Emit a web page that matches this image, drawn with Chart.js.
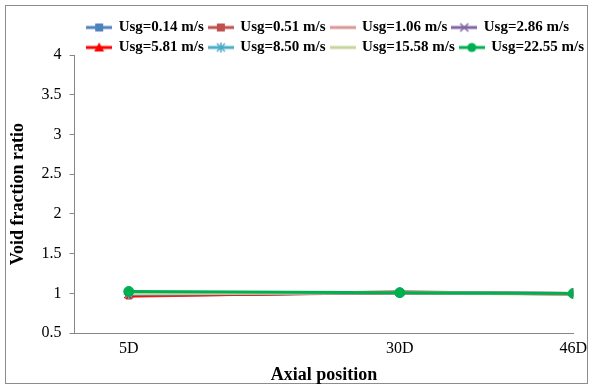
<!DOCTYPE html>
<html>
<head>
<meta charset="utf-8">
<script src="https://cdn.jsdelivr.net/npm/chart.js@4.4.1/dist/chart.umd.min.js"></script>
<style>
  html, body { margin: 0; padding: 0; background: #fff; }
  #wrap { width: 593px; height: 388px; }
</style>
</head>
<body>
<div id="wrap"><canvas id="myChart" width="593" height="388"></canvas></div>
<script>
// axial positions (in pipe diameters) and their tick labels
const positions = [5, 30, 46];
const positionLabels = ['5D', '30D', '46D'];

const seriesLabels = ['Usg=0.14 m/s', 'Usg=0.51 m/s', 'Usg=1.06 m/s', 'Usg=2.86 m/s',
  'Usg=5.81 m/s', 'Usg=8.50 m/s', 'Usg=15.58 m/s', 'Usg=22.55 m/s'];

// void fraction ratio
const usg014 = [0.98, 1.01, 1.00];
const usg051 = [0.965, 1.02, 0.99];
const usg106 = [0.98, 1.01, 0.99];
const usg286 = [0.985, 1.01, 1.00];
const usg581 = [0.975, 1.01, 1.00];
const usg850 = [0.99, 1.01, 1.00];
const usg1558 = [1.00, 1.01, 1.00];
const usg2255 = [1.025, 1.01, 1.00];

const yTicks = [0.5, 1, 1.5, 2, 2.5, 3, 3.5, 4];

const seriesValues = [usg014, usg051, usg106, usg286, usg581, usg850, usg1558, usg2255];
const colors = ['#4F81BD', '#C0504D', '#D99694', '#8064A2', '#FF0000', '#4BACC6', '#C3D69B', '#00B050'];
const markers = ['rect', 'rect', false, 'crossRot', 'triangle', 'star', false, 'circle'];
const markerSizes = [4, 4, 0, 4, 5, 5, 0, 5];

// little "line + marker" icons for the legend, like Excel draws them
function legendIcon(color, marker) {
  const c = document.createElement('canvas');
  c.width = 26; c.height = 12;
  const g = c.getContext('2d');
  g.strokeStyle = color;
  g.fillStyle = color;
  g.lineWidth = 3;
  g.beginPath(); g.moveTo(0, 6); g.lineTo(26, 6); g.stroke();
  const cx = 13, cy = 6;
  g.lineWidth = 1.5;
  if (marker === 'rect') {
    g.fillRect(cx - 4, cy - 4, 8, 8);
  } else if (marker === 'circle') {
    g.beginPath(); g.arc(cx, cy, 4.5, 0, Math.PI * 2); g.fill();
  } else if (marker === 'triangle') {
    g.beginPath(); g.moveTo(cx, cy - 5); g.lineTo(cx + 5, cy + 4); g.lineTo(cx - 5, cy + 4); g.closePath(); g.fill();
  } else if (marker === 'crossRot') {
    g.beginPath();
    g.moveTo(cx - 4, cy - 4); g.lineTo(cx + 4, cy + 4);
    g.moveTo(cx + 4, cy - 4); g.lineTo(cx - 4, cy + 4);
    g.stroke();
  } else if (marker === 'star') {
    g.beginPath();
    g.moveTo(cx - 4, cy - 4); g.lineTo(cx + 4, cy + 4);
    g.moveTo(cx + 4, cy - 4); g.lineTo(cx - 4, cy + 4);
    g.moveTo(cx, cy - 5); g.lineTo(cx, cy + 5);
    g.stroke();
  }
  return c;
}

// grey frame round the whole chart + a tighter legend box
const frame = {
  id: 'frame',
  afterInit(chart) {
    const legend = chart.legend;
    const fit = legend.fit;
    legend.fit = function () {
      fit.call(this);
      this.height -= 10;
      // rows line up on their left edge, as in Excel
      const widest = Math.max(...this.lineWidths);
      this.lineWidths = this.lineWidths.map(() => widest);
    };
  },
  beforeDraw(chart) {
    const ctx = chart.ctx;
    ctx.save();
    ctx.fillStyle = '#fff';
    ctx.fillRect(0, 0, chart.width, chart.height);
    ctx.strokeStyle = '#8c8c8c';
    ctx.lineWidth = 1;
    ctx.strokeRect(5.5, 5.5, 582, 378);
    ctx.restore();
  }
};

const datasets = seriesLabels.map((label, i) => ({
  label: label,
  data: positions.map((p, j) => ({ x: p, y: seriesValues[i][j] })),
  borderColor: colors[i],
  backgroundColor: colors[i],
  borderWidth: 3,
  pointStyle: markers[i],
  pointRadius: markerSizes[i],
  pointBorderWidth: (markers[i] === 'crossRot' || markers[i] === 'star') ? 1.5 : 1,
  tension: 0,
  order: seriesLabels.length - i
}));

const ctx = document.getElementById('myChart');

new Chart(ctx, {
  type: 'line',
  data: { datasets: datasets },
  options: {
    responsive: false,
    animation: false,
    layout: { padding: { top: 15, right: 4, left: 8, bottom: 2 } },
    plugins: {
      legend: {
        position: 'top',
        align: 'end',
        labels: {
          usePointStyle: true,
          pointStyleWidth: 24,
          padding: 5,
          color: '#000',
          font: { family: 'Liberation Serif', size: 15, weight: 'bold' },
          generateLabels(chart) {
            return chart.data.datasets.map((ds, i) => ({
              text: ds.label,
              pointStyle: legendIcon(colors[i], markers[i]),
              fillStyle: colors[i],
              strokeStyle: colors[i],
              lineWidth: 0,
              hidden: false,
              datasetIndex: i,
              fontColor: '#000'
            }));
          }
        }
      },
      tooltip: { enabled: false }
    },
    scales: {
      x: {
        type: 'linear',
        min: 0,
        max: 46,
        afterBuildTicks(axis) {
          axis.ticks = positions.map(v => ({ value: v }));
        },
        ticks: {
          color: '#000',
          autoSkip: false,
          maxRotation: 0,
          padding: 6,
          font: { family: 'Liberation Serif', size: 16 },
          callback: (v) => positionLabels[positions.indexOf(v)]
        },
        grid: { drawOnChartArea: false, drawTicks: false },
        border: { color: '#868686', width: 1 },
        title: {
          display: true,
          text: 'Axial position',
          color: '#000',
          font: { family: 'Liberation Serif', size: 18, weight: 'bold' },
          padding: { top: 0, bottom: 0 }
        }
      },
      y: {
        min: 0.5,
        max: 4,
        afterBuildTicks(axis) {
          axis.ticks = yTicks.map(v => ({ value: v }));
        },
        ticks: {
          color: '#000',
          padding: 8,
          font: { family: 'Liberation Serif', size: 16 },
          callback: (v) => String(v)
        },
        grid: { drawOnChartArea: false, tickLength: 5, color: '#868686' },
        border: { color: '#868686', width: 1 },
        title: {
          display: true,
          text: 'Void fraction ratio',
          color: '#000',
          font: { family: 'Liberation Serif', size: 18, weight: 'bold' },
          padding: { top: 0, bottom: 4 }
        }
      }
    }
  },
  plugins: [frame]
});
</script>
</body>
</html>
